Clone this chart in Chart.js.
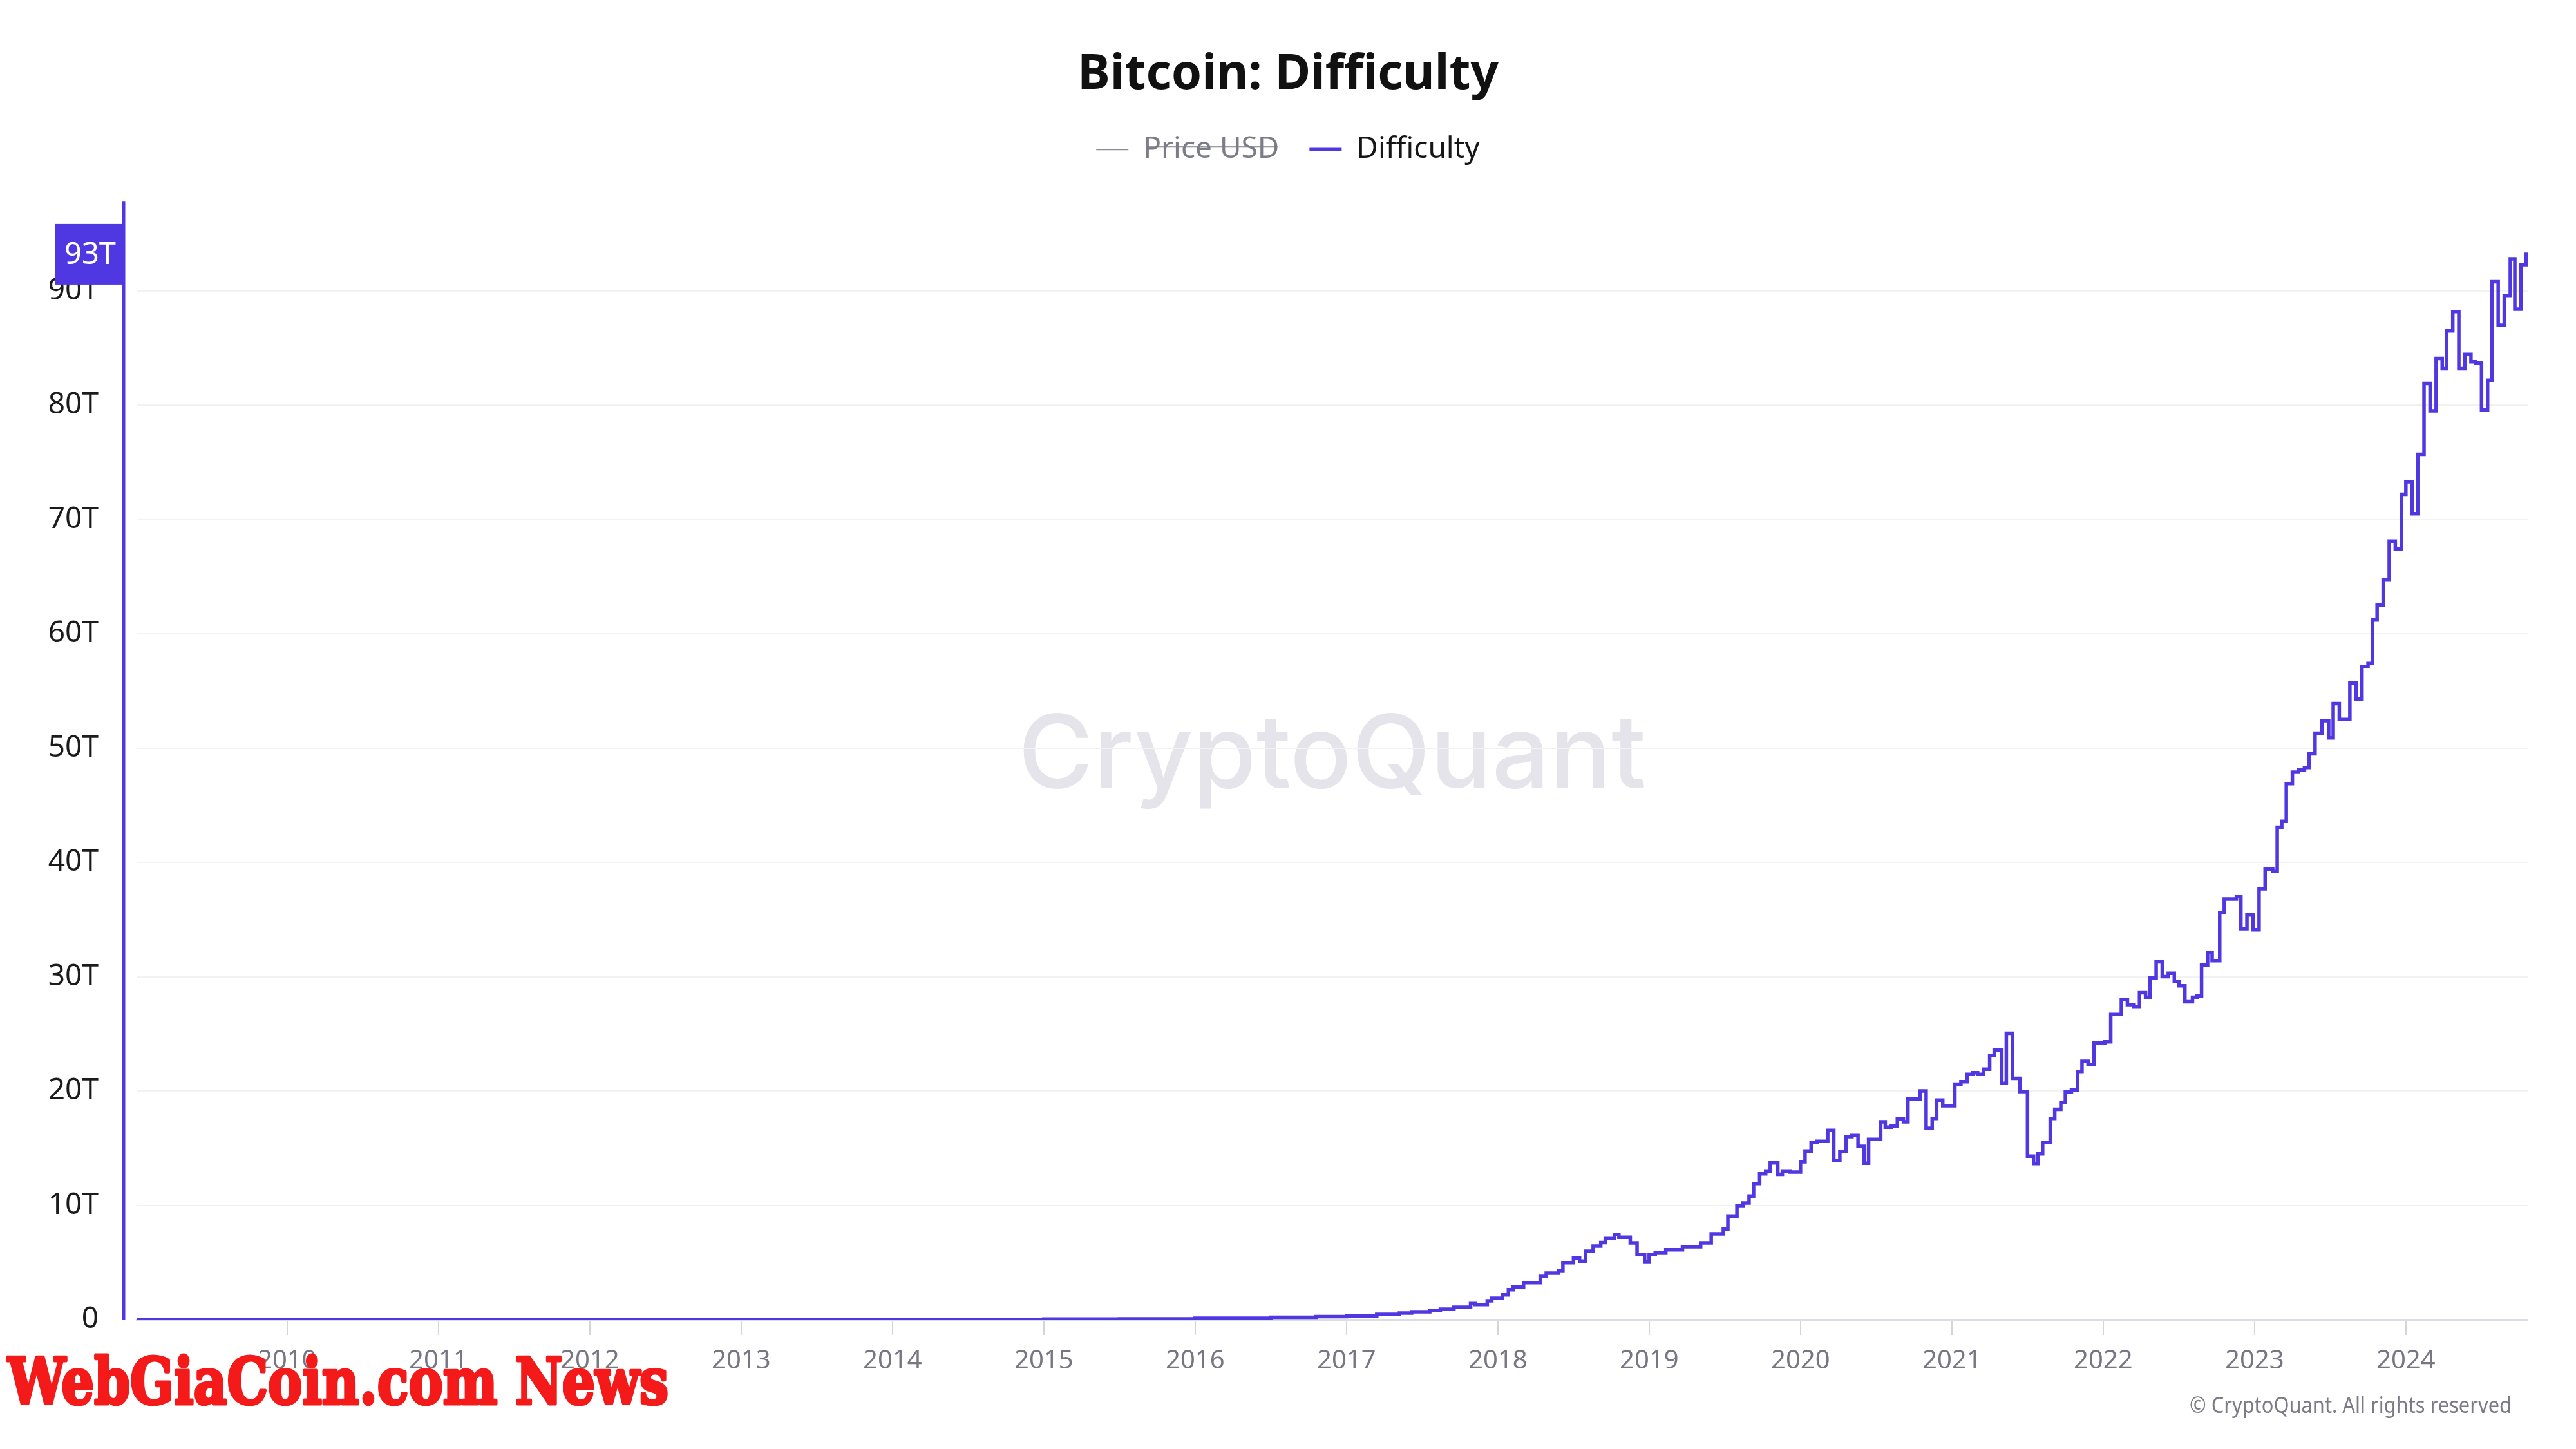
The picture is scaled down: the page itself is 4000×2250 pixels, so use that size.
<!DOCTYPE html>
<html>
<head>
<meta charset="utf-8">
<title>Bitcoin: Difficulty</title>
<script src="https://cdn.jsdelivr.net/npm/chart.js@4.4.1/dist/chart.umd.min.js"></script>
<style>
  html, body { margin: 0; padding: 0; background: #ffffff; }
  #chart { display: block; }
</style>
</head>
<body>
<canvas id="chart" width="4000" height="2250"></canvas>
<script>
// difficulty epochs: year (decimal) where a value starts, value in T
const epochYear = [
  2009.005, 2011.00, 2012.00, 2013.00, 2013.50, 2014.00, 2014.50, 2015.00, 2015.50, 2016.00,
  2016.50, 2016.80, 2017.00, 2017.20, 2017.35, 2017.43, 2017.55, 2017.62, 2017.71, 2017.82,
  2017.85, 2017.93, 2017.96, 2018.03, 2018.07, 2018.10, 2018.17, 2018.28, 2018.32, 2018.40,
  2018.43, 2018.50, 2018.54, 2018.58, 2018.63, 2018.68, 2018.71, 2018.77, 2018.80, 2018.875,
  2018.92, 2018.97, 2019.00, 2019.04, 2019.11, 2019.22, 2019.34, 2019.41, 2019.49, 2019.52,
  2019.58, 2019.62, 2019.66, 2019.69, 2019.73, 2019.77, 2019.80, 2019.85, 2019.88, 2019.93,
  2020.00, 2020.03, 2020.07, 2020.11, 2020.18, 2020.22, 2020.26, 2020.30, 2020.34, 2020.38,
  2020.42, 2020.45, 2020.53, 2020.56, 2020.60, 2020.64, 2020.68, 2020.71, 2020.79, 2020.83,
  2020.87, 2020.90, 2020.94, 2021.02, 2021.06, 2021.10, 2021.14, 2021.17, 2021.21, 2021.25,
  2021.28, 2021.33, 2021.36, 2021.40, 2021.45, 2021.50, 2021.54, 2021.57, 2021.60, 2021.65,
  2021.68, 2021.72, 2021.75, 2021.79, 2021.83, 2021.86, 2021.90, 2021.94, 2022.01, 2022.05,
  2022.12, 2022.16, 2022.20, 2022.24, 2022.28, 2022.31, 2022.35, 2022.39, 2022.43, 2022.47,
  2022.50, 2022.54, 2022.59, 2022.62, 2022.65, 2022.69, 2022.72, 2022.77, 2022.80, 2022.88,
  2022.91, 2022.95, 2022.99, 2023.03, 2023.07, 2023.12, 2023.15, 2023.18, 2023.21, 2023.25,
  2023.29, 2023.33, 2023.36, 2023.40, 2023.445, 2023.49, 2023.52, 2023.56, 2023.63, 2023.67,
  2023.71, 2023.75, 2023.78, 2023.81, 2023.85, 2023.89, 2023.93, 2023.97, 2024.00, 2024.04,
  2024.08, 2024.12, 2024.16, 2024.20, 2024.24, 2024.27, 2024.31, 2024.35, 2024.39, 2024.43,
  2024.46, 2024.50, 2024.54, 2024.57, 2024.61, 2024.65, 2024.69, 2024.72, 2024.76, 2024.795,
  2024.805
];
const difficultyT = [
  0, 0.000001, 0.0000015, 0.0000034, 0.00003, 0.0014, 0.017, 0.04, 0.05, 0.11,
  0.2, 0.25, 0.32, 0.45, 0.56, 0.67, 0.8, 0.9, 1.07, 1.45,
  1.31, 1.63, 1.86, 2.16, 2.6, 2.85, 3.23, 3.78, 4.05, 4.28,
  4.97, 5.4, 5.12, 5.97, 6.42, 6.74, 7.08, 7.43, 7.2, 6.7,
  5.68, 5.07, 5.68, 5.86, 6.1, 6.36, 6.7, 7.49, 7.93, 9.06,
  9.98, 10.2, 10.8, 11.9, 12.75, 13.0, 13.7, 12.7, 13.0, 12.9,
  13.8, 14.75, 15.5, 15.6, 16.55, 13.93, 14.7, 16.0, 16.1, 15.15,
  13.68, 15.76, 17.3, 16.84, 16.95, 17.56, 17.3, 19.3, 20.0, 16.74,
  17.6, 19.2, 18.7, 20.6, 20.8, 21.45, 21.6, 21.45, 21.9, 23.1,
  23.6, 20.66, 25.05, 21.1, 19.95, 14.3, 13.65, 14.5, 15.5, 17.6,
  18.4, 18.97, 19.9, 20.1, 21.7, 22.6, 22.3, 24.2, 24.3, 26.7,
  28.0, 27.55, 27.4, 28.6, 28.2, 29.9, 31.3, 30.0, 30.3, 29.6,
  29.2, 27.8, 28.2, 28.3, 31.0, 32.1, 31.4, 35.6, 36.8, 37.0,
  34.2, 35.4, 34.1, 37.7, 39.4, 39.2, 43.07, 43.6, 46.9, 47.9,
  48.1, 48.3, 49.5, 51.3, 52.4, 50.9, 53.9, 52.5, 55.7, 54.3,
  57.15, 57.4, 61.2, 62.5, 64.75, 68.1, 67.4, 72.2, 73.3, 70.5,
  75.7, 81.9, 79.5, 84.1, 83.2, 86.5, 88.2, 83.2, 84.45, 83.8,
  83.7, 79.6, 82.2, 90.8, 87.0, 89.6, 92.8, 88.4, 92.3, 93.2,
  93.2
];
const yearTicks = [2010, 2011, 2012, 2013, 2014, 2015, 2016, 2017, 2018, 2019, 2020, 2021, 2022, 2023, 2024];
const valueTicks = [0, 10, 20, 30, 40, 50, 60, 70, 80, 90];

const LINE = '#4f38e2';
const FONT = "'Noto Sans', 'Open Sans', sans-serif";

Chart.defaults.font.family = FONT;

// draws text squeezed horizontally to a given width
function fitText(ctx, text, x, y, width) {
  const w = ctx.measureText(text).width;
  ctx.save();
  ctx.translate(x, y);
  ctx.scale(width / w, 1);
  ctx.fillText(text, 0, 0);
  ctx.restore();
}

// watermark, y axis rule with last value tag, footer texts
const decor = {
  id: 'decor',
  beforeDraw(chart) {
    const { ctx, chartArea } = chart;
    ctx.save();
    ctx.font = "500 158px Inter, 'Noto Sans', sans-serif";
    ctx.fillStyle = '#e4e4ea';
    ctx.textAlign = 'center';
    ctx.textBaseline = 'alphabetic';
    fitText(ctx, 'CryptoQuant', (chartArea.left + chartArea.right) / 2, 1223, 975);
    ctx.restore();
  },
  afterDraw(chart) {
    const { ctx, chartArea, scales } = chart;
    const axisX = chartArea.left - 20;
    ctx.save();
    ctx.strokeStyle = LINE;
    ctx.lineWidth = 5;
    ctx.beginPath();
    ctx.moveTo(axisX, chartArea.top);
    ctx.lineTo(axisX, chartArea.bottom);
    ctx.stroke();

    const last = difficultyT[difficultyT.length - 1];
    const ly = scales.y.getPixelForValue(last);
    ctx.fillStyle = LINE;
    ctx.fillRect(axisX - 106, ly - 47, 106, 94);
    ctx.fillStyle = '#ffffff';
    ctx.font = '47px ' + FONT;
    ctx.textAlign = 'center';
    ctx.textBaseline = 'middle';
    ctx.fillText(Math.round(last) + 'T', axisX - 52, ly + 2);

    ctx.fillStyle = '#7b7b87';
    ctx.font = '34px ' + FONT;
    ctx.textAlign = 'right';
    ctx.textBaseline = 'alphabetic';
    fitText(ctx, '\u00a9 CryptoQuant. All rights reserved', 3900, 2194, 500);

    ctx.font = "bold 100px 'DejaVu Serif', serif";
    ctx.textAlign = 'left';
    const tw = ctx.measureText('WebGiaCoin.com News').width;
    ctx.translate(12, 2180);
    ctx.scale(1026 / tw, 1);
    ctx.fillStyle = '#f41a1a';
    ctx.strokeStyle = '#f41a1a';
    ctx.lineWidth = 5;
    ctx.lineJoin = 'round';
    ctx.strokeText('WebGiaCoin.com News', 0, 0);
    ctx.fillText('WebGiaCoin.com News', 0, 0);
    ctx.restore();
  }
};

new Chart(document.getElementById('chart'), {
  type: 'line',
  data: {
    datasets: [
      {
        label: 'Price USD',
        data: [],
        hidden: true,
        borderColor: '#8a8a96',
        borderWidth: 2
      },
      {
        label: 'Difficulty',
        data: epochYear.map((x, i) => ({ x: x, y: difficultyT[i] })),
        borderColor: LINE,
        backgroundColor: LINE,
        borderWidth: 5.5,
        pointRadius: 0,
        stepped: 'before',
        fill: false
      }
    ]
  },
  options: {
    responsive: false,
    devicePixelRatio: 1,
    animation: false,
    layout: { padding: { left: 75, right: 75, top: 0, bottom: 0 } },
    plugins: {
      title: {
        display: true,
        text: 'Bitcoin: Difficulty',
        color: '#111111',
        font: { size: 76, weight: 'bold' },
        padding: { top: 71, bottom: 0 }
      },
      // empty subtitle used as a spacer between legend and plot
      subtitle: {
        display: true,
        text: '',
        weight: 500,
        font: { size: 1, lineHeight: 1 },
        padding: { top: 46, bottom: 0 }
      },
      legend: {
        display: true,
        labels: {
          usePointStyle: true,
          pointStyle: 'line',
          pointStyleWidth: 50,
          padding: 47,
          font: { size: 46 },
          generateLabels(chart) {
            const items = Chart.defaults.plugins.legend.labels.generateLabels(chart);
            items.forEach(it => { it.fontColor = it.hidden ? '#7c7c88' : '#161616'; });
            return items;
          }
        }
      },
      tooltip: { enabled: false }
    },
    scales: {
      x: {
        type: 'linear',
        min: epochYear[0],
        max: epochYear[epochYear.length - 1],
        afterBuildTicks: axis => { axis.ticks = yearTicks.map(v => ({ value: v })); },
        afterFit: axis => { axis.height = 201; },
        grid: { drawOnChartArea: false, drawTicks: true, tickLength: 24, color: '#d4d4dc', lineWidth: 2 },
        border: { display: true, color: '#dcdce3', width: 3 },
        ticks: {
          padding: 17,
          color: '#777784',
          font: { size: 40 },
          maxRotation: 0,
          autoSkip: false,
          callback: v => String(v)
        }
      },
      y: {
        min: 0,
        max: Math.max(...difficultyT) * 1.05,
        afterBuildTicks: axis => { axis.ticks = valueTicks.map(v => ({ value: v })); },
        afterFit: axis => { axis.width = 137; },
        grid: { color: '#f2f2f4', lineWidth: 2, drawTicks: false },
        border: { display: false },
        ticks: {
          padding: 59,
          color: '#1b1b1b',
          font: { size: 46 },
          callback: v => (v === 0 ? '0' : v + 'T')
        }
      }
    }
  },
  plugins: [decor]
});
</script>
</body>
</html>
